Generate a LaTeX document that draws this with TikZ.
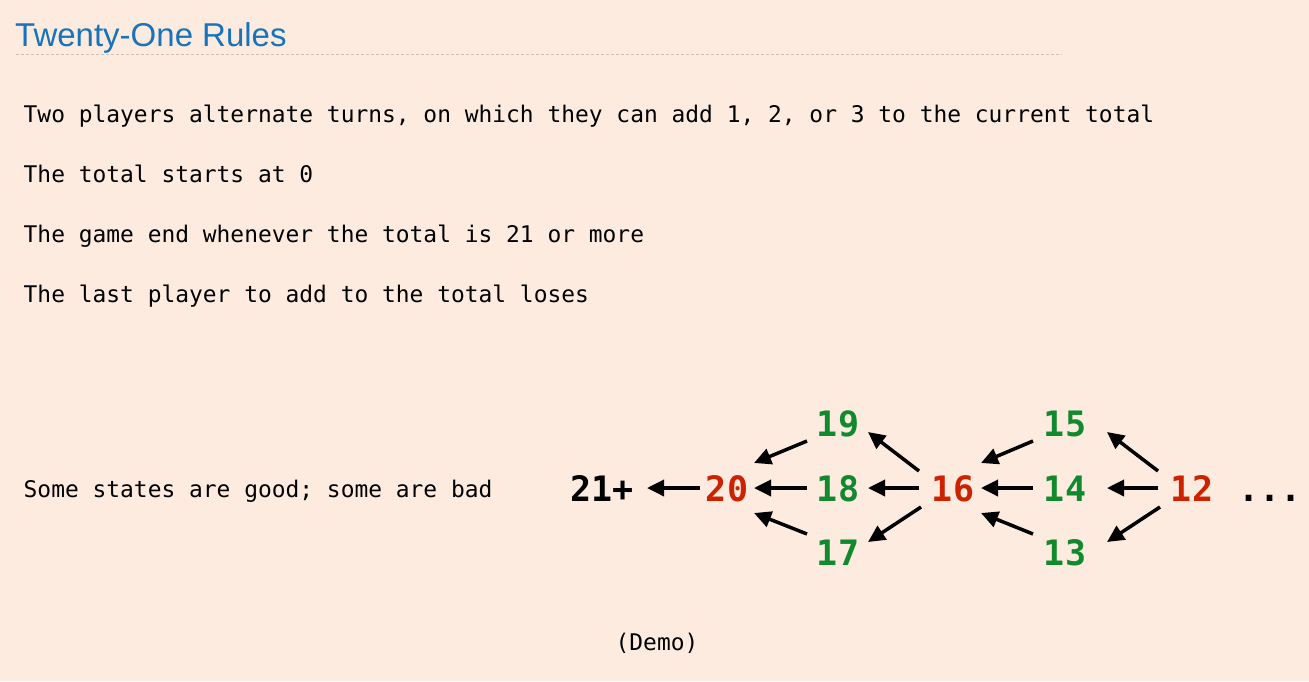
\documentclass[tikz,border=0pt]{standalone}
\usepackage{fontspec}
\setmainfont{Liberation Sans}
\setmonofont{DejaVu Sans Mono}
\usetikzlibrary{arrows.meta,calc}
\definecolor{bg}{HTML}{FDEBE0}
\definecolor{ttl}{HTML}{1673BC}
\definecolor{bad}{HTML}{CC2200}
\definecolor{good}{HTML}{118A2E}
\definecolor{rule}{HTML}{C9C1BA}
\begin{document}
\begin{tikzpicture}[x=1pt,y=-1pt,
  body/.style={anchor=base west,inner sep=0pt,font=\ttfamily\fontsize{22.9}{27}\selectfont},
  num/.style={anchor=base,inner sep=0pt,font=\ttfamily\bfseries\fontsize{35}{40}\selectfont},
  goodn/.style={num,text=good},
  badn/.style={num,text=bad},
  arr/.style={line width=3.5pt,-{Triangle[length=17pt,width=16pt]}}]
\fill[bg] (0,0) rectangle (1309,681);
\useasboundingbox (0,0) rectangle (1309,681);
% title
\node[anchor=base west,inner sep=0pt,text=ttl,font=\fontsize{33}{38}\selectfont] (title) at (15,46) {Twenty-One Rules};
\coordinate (rl) at (16,54.5);
\coordinate (rr) at (1062,54.5);
\draw[rule,line width=1pt,dash pattern=on 3pt off 2pt] (rl) -- (rr);
% body
\node[body] (l1) at (23.5,122) {Two players alternate turns, on which they can add 1, 2, or 3 to the current total};
\node[body] (l2) at (23.5,182) {The total starts at 0};
\node[body] (l3) at (23.5,242) {The game end whenever the total is 21 or more};
\node[body] (l4) at (23.5,302) {The last player to add to the total loses};
\node[body] (l5) at (23.5,497) {Some states are good; some are bad};
\node[body,anchor=base] (demo) at (657,650) {(Demo)};
% numbers
\node[num] (n21) at (602,501) {21+};
\node[badn] (n20) at (727,501) {20};
\node[goodn] (n19) at (838,436) {19};
\node[goodn] (n18) at (838,501) {18};
\node[goodn] (n17) at (838,565) {17};
\node[badn] (n16) at (953,501) {16};
\node[goodn] (n15) at (1065,436) {15};
\node[goodn] (n14) at (1065,501) {14};
\node[goodn] (n13) at (1065,565) {13};
\node[badn] (n12) at (1192,501) {12};
\node[num] (dots) at (1270,501) {...};
% arrows
\draw[arr] ($(n20.base)+(-27,-13)$) -- ($(n21.base)+(45,-13)$);
\draw[arr] ($(n18.base)+(-31,-13)$) -- ($(n20.base)+(27,-13)$);
\draw[arr] ($(n19.base)+(-31,5)$) -- ($(n20.base)+(27,-38)$);
\draw[arr] ($(n17.base)+(-31,-31)$) -- ($(n20.base)+(27,12)$);
\draw[arr] ($(n16.base)+(-34,-30)$) -- ($(n19.base)+(30,-4)$);
\draw[arr] ($(n16.base)+(-34,-13)$) -- ($(n18.base)+(30,-13)$);
\draw[arr] ($(n16.base)+(-32,6)$) -- ($(n17.base)+(30,-23)$);
\draw[arr] ($(n15.base)+(-32,5)$) -- ($(n16.base)+(28,-38)$);
\draw[arr] ($(n14.base)+(-32,-13)$) -- ($(n16.base)+(28,-13)$);
\draw[arr] ($(n13.base)+(-32,-31)$) -- ($(n16.base)+(28,12)$);
\draw[arr] ($(n12.base)+(-34,-30)$) -- ($(n15.base)+(42,-4)$);
\draw[arr] ($(n12.base)+(-34,-13)$) -- ($(n14.base)+(42,-13)$);
\draw[arr] ($(n12.base)+(-32,6)$) -- ($(n13.base)+(42,-23)$);
\end{tikzpicture}
\end{document}
